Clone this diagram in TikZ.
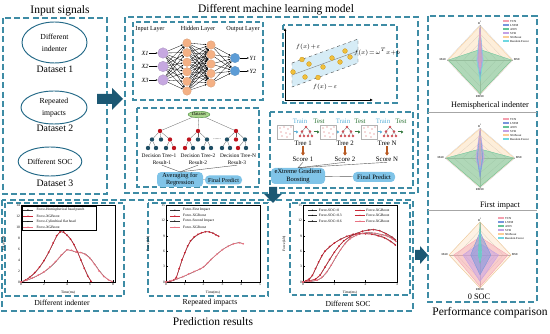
\documentclass[tikz,border=0pt]{standalone}
\usepackage{fontspec}
\setmainfont{Liberation Serif}
\usetikzlibrary{arrows.meta,shapes.geometric}
\definecolor{boxc}{RGB}{62,140,165}
\definecolor{arrc}{RGB}{28,88,115}
\definecolor{ellc}{RGB}{35,105,135}
\definecolor{inpc}{RGB}{198,168,224}
\definecolor{hidc}{RGB}{244,176,132}
\definecolor{outc}{RGB}{92,156,214}
\definecolor{bandc}{RGB}{214,236,246}
\definecolor{dotc}{RGB}{240,192,60}
\definecolor{dotd}{RGB}{205,150,30}
\definecolor{tdark}{RGB}{30,78,100}
\definecolor{tred}{RGB}{190,20,30}
\definecolor{rbox}{RGB}{128,196,232}
\definecolor{dsf}{RGB}{170,212,140}
\definecolor{dsd}{RGB}{70,140,60}
\definecolor{trainc}{RGB}{90,175,215}
\definecolor{testc}{RGB}{50,120,60}
\definecolor{brownc}{RGB}{185,90,35}
\definecolor{pred}{RGB}{200,40,55}
\definecolor{ppink}{RGB}{232,115,130}
\definecolor{lTCN}{RGB}{244,160,175}
\definecolor{lLSTM}{RGB}{120,150,220}
\definecolor{lANN}{RGB}{100,195,150}
\definecolor{lSVR}{RGB}{195,160,230}
\definecolor{lXGB}{RGB}{250,205,150}
\definecolor{lRF}{RGB}{110,215,225}
\newcommand\radarbase{%
  \foreach \s in {0.25,0.5,0.75,1}
    \draw[gray!45, line width=0.2pt] (0,\s) -- (\s,0) -- (0,-\s) -- (-\s,0) -- cycle;
  \draw[gray!65, line width=0.25pt] (-1,0) -- (1,0) (0,-1) -- (0,1);
}
\newcommand\radarlabels[1]{%
  \node[rl, above] (#1t) at (0,1) {R\textsuperscript{2}};
  \node[rl, left] (#1l) at (-1,0) {MAE};
  \node[rl, right] (#1r) at (1,0) {MSE};
  \node[rl, below] (#1b) at (0,-1) {RMSE};
}
\newcommand\rpoly[6]{\filldraw[draw=#1, fill=#1, fill opacity=#6, line width=0.35pt] (0,#2) -- (#3,0) -- (0,-#4) -- (-#5,0) -- cycle;}
\newcommand\radarleg[3]{%
  \foreach \c/\t [count=\k] in {lTCN/TCN,lLSTM/LSTM,lANN/ANN,lSVR/SVR,lXGB/XGBoost,lRF/Random Forest}{%
    \fill[\c] (#1,{#2+4*\k-4}) rectangle ({#1+6},{#2+4*\k-1.6});
    \node[rleg] (#3\k) at ({#1+7},{#2+4*\k-2.8}) {\t};
  }%
}
\begin{document}
\begin{tikzpicture}[x=1pt,y=-1pt,
 dbox/.style={draw=boxc, line width=1.15pt, dash pattern=on 6pt off 3.2pt},
 ibox/.style={draw=boxc, line width=1.05pt, dash pattern=on 5.5pt off 3pt},
 ttl/.style={font=\fontsize{11.5}{13}\selectfont, inner sep=0pt},
 ds/.style={font=\fontsize{9.8}{11}\selectfont, inner sep=0pt},
 ell/.style={ellipse, draw=ellc, line width=0.95pt, inner sep=0pt, align=center, font=\fontsize{7.7}{12}\selectfont},
 pcap/.style={font=\fontsize{7.7}{9}\selectfont, inner sep=0pt},
 lay/.style={font=\fontsize{6.2}{7}\selectfont, inner sep=0pt},
 nnin/.style={circle, fill=inpc, draw=inpc!80!black, line width=0.2pt, minimum size=10.5pt, inner sep=0pt},
 nnh/.style={circle, fill=hidc, draw=hidc!85!black, line width=0.2pt, minimum size=8.6pt, inner sep=0pt},
 nno/.style={circle, fill=outc, draw=outc!85!black, line width=0.2pt, minimum size=9.5pt, inner sep=0pt},
 nne/.style={line width=0.3pt, -{Latex[length=1.8pt,width=1.6pt]}},
 nnlab/.style={font=\fontsize{6.3}{7}\selectfont\itshape, inner sep=0.5pt},
 svl/.style={font=\fontsize{5.8}{7}\selectfont\itshape, inner sep=0pt},
 tn/.style={circle, inner sep=0pt, minimum size=4.4pt},
 tl/.style={gray!80!black, line width=0.3pt},
 xl/.style={font=\fontsize{5.4}{6.5}\selectfont, inner sep=0.6pt},
 xl2/.style={font=\fontsize{6.8}{7.5}\selectfont, inner sep=0.8pt},
 rb/.style={rounded corners=4pt, fill=rbox, align=center, inner sep=1pt},
 gl/.style={gray!70!black, line width=0.4pt},
 tk/.style={font=\fontsize{3.6}{4}\selectfont, inner sep=0.8pt},
 lg/.style={font=\fontsize{3.6}{4}\selectfont, inner sep=0pt, anchor=west},
 refl/.style={black!80, line width=0.35pt, mark size=0.5pt},
 xgbl/.style={pred, line width=0.6pt, mark size=0.55pt},
 xgbl2/.style={ppink, line width=0.6pt, mark size=0.55pt},
 rl/.style={font=\fontsize{3}{3.4}\selectfont, inner sep=0.6pt},
 rleg/.style={font=\fontsize{3}{3.2}\selectfont, inner sep=0pt, anchor=west},
 rt/.style={font=\fontsize{8.3}{9}\selectfont, inner sep=0pt}
]
\useasboundingbox (0,0) rectangle (550,334);

% ---------- titles ----------
\node[ttl] (tin) at (60,11) {Input signals};
\node[ttl] (tml) at (276,10) {Different machine learning model};
\node[ttl] (tpr) at (213,322) {Prediction results};
\node[ttl] (tpc) at (490,313) {Performance comparison};

% ---------- dashed frames ----------
\draw[dbox] (3,18) rectangle (107,194);
\draw[dbox] (125,17) rectangle (418,193);
\draw[ibox] (133,22) rectangle (263,100);
\draw[ibox] (283,25) rectangle (397,103);
\draw[ibox] (137,108) rectangle (259,187);
\draw[ibox] (270,112) rectangle (413,188);
\draw[dbox] (2,200) rectangle (413,311);
\draw[ibox] (5,203) rectangle (124,296);
\draw[ibox] (148,203) rectangle (268,296);
\draw[ibox] (290,203) rectangle (410,295);
\draw[dbox] (428,16) rectangle (537,302);

% ---------- big arrows ----------
\fill[arrc] (97,94) -- (112,94) -- (112,88) -- (123,99) -- (112,110) -- (112,104) -- (97,104) -- cycle;
\fill[arrc] (269,187) -- (277,187) -- (277,194) -- (282,194) -- (273,203) -- (264,194) -- (269,194) -- cycle;
\fill[arrc] (415,250) -- (420,250) -- (420,246) -- (428,255) -- (420,264) -- (420,260) -- (415,260) -- cycle;

% ---------- input signals ----------
\node[ell, minimum width=65pt, minimum height=41pt] (e1) at (54.5,42.5) {Different\\indenter};
\node[ds] (d1) at (55,69) {Dataset 1};
\node[ell, minimum width=66pt, minimum height=33pt] (e2) at (54,107.5) {Repeated\\impacts};
\node[ds] (d2) at (55,128) {Dataset 2};
\node[ell, minimum width=54pt, minimum height=29pt] (e3) at (50,161.5) {Different SOC};
\node[ds] (d3) at (55,183) {Dataset 3};

% ---------- neural network ----------
\node[lay] (lin) at (150,29) {Input Layer};
\node[lay] (lhid) at (198,29) {Hidden Layer};
\node[lay] (lout) at (243,29) {Output Layer};
\foreach \y [count=\k] in {53,66.5,80} \node[nnin] (i\k) at (163,\y) {};
\foreach \y [count=\k] in {43,52.6,62.2,71.8,81.4,91} \node[nnh] (h\k) at (187,\y) {};
\foreach \y [count=\k] in {45,54.5,64,73.5,83} \node[nnh] (g\k) at (211,\y) {};
\foreach \y [count=\k] in {58,71} \node[nno] (o\k) at (235,\y) {};
\foreach \a in {1,2,3} \foreach \b in {1,...,6} \draw[nne] (i\a) -- (h\b);
\foreach \a in {1,...,6} \foreach \b in {1,...,5} \draw[nne] (h\a) -- (g\b);
\foreach \a in {1,...,5} \foreach \b in {1,2} \draw[nne] (g\a) -- (o\b);
\foreach \y [count=\k] in {53,66.5,80} {\node[nnlab] (x\k) at (145,\y) {X\k}; \draw[nne] (x\k) -- (i\k);}
\foreach \y [count=\k] in {58,71} {\node[nnlab] (yy\k) at (253,\y) {Y\k}; \draw[nne] (o\k) -- (yy\k);}

% ---------- SVR ----------
\coordinate (ax0) at (285,100);
\coordinate (axy) at (285,28);
\coordinate (axx) at (373,100);
\draw[line width=0.7pt, -{Latex[length=3pt,width=3pt]}] (ax0) -- (axy);
\draw[line width=0.7pt, -{Latex[length=3pt,width=3pt]}] (ax0) -- (axx);
\filldraw[fill=bandc, draw=black!70, dashed, line width=0.4pt] (292,63) -- (358,39) -- (358,63) -- (292,87) -- cycle;
\draw[gray, line width=0.4pt] (292,75) -- (358,51);
\foreach \px/\py in {293/72,302/59.5,309/64,305/77,318/77.5,323/67,332/58,340/62,345/51,350/57}
  \filldraw[fill=dotc, draw=dotd, line width=0.3pt] (\px,\py) circle[radius=2.4pt];
\node[svl] (fp) at (308,47) {$f(x)\!+\!\varepsilon$};
\node[svl] (fm) at (325,87) {$f(x)\!-\!\varepsilon$};
\node[svl] (fw) at (377,52) {$f(x)\!=\!\omega^{T}x\!+\!b$};

% ---------- random forest ----------
\node[ellipse, fill=dsf, draw=dsd, line width=0.4pt, inner sep=0.8pt, font=\fontsize{4.6}{5}\selectfont] (dset) at (199,114.5) {Dataset};
\foreach \t/\rx/\ca/\cb/\cc/\la/\lb/\lc/\ld/\sa/\sb/\sc/\sd/\ta/\tb/\tc/\td in
 {1/160/tdark/tdark/tred/148/156/166/174/tdark/tdark/tdark/tred/152/161/170/0,
  2/198/tred/tdark/tdark/185/193/203/211/tred/tdark/tdark/tdark/189/198/207/0,
  3/236/tdark/tred/tdark/222/230/238/246/tdark/tdark/tred/tdark/227/236/245/0}{
  \node[tn, fill=tred] (r\t) at (\rx,131) {};
  \node[tn, fill=\ca] (r\t a) at (\ta,139.5) {};
  \node[tn, fill=\cb] (r\t b) at (\tb,139.5) {};
  \node[tn, fill=\cc] (r\t c) at (\tc,139.5) {};
  \node[tn, fill=\sa] (r\t p) at (\la,148) {};
  \node[tn, fill=\sb] (r\t q) at (\lb,148) {};
  \node[tn, fill=\sc] (r\t r) at (\lc,148) {};
  \node[tn, fill=\sd] (r\t s) at (\ld,148) {};
  \draw[tl] (dset) -- (r\t);
  \draw[tl] (r\t) -- (r\t a); \draw[tl] (r\t) -- (r\t b); \draw[tl] (r\t) -- (r\t c);
  \draw[tl] (r\t a) -- (r\t p); \draw[tl] (r\t a) -- (r\t q);
  \draw[tl] (r\t c) -- (r\t r); \draw[tl] (r\t c) -- (r\t s);
}
\node[font=\fontsize{5}{5}\selectfont, inner sep=0pt] (rfdots) at (217,139) {......};
\node[xl] (dt1) at (159,155.5) {Decision Tree-1};
\node[xl] (dt2) at (198,155.5) {Decision Tree-2};
\node[xl] (dt3) at (238,155.5) {Decision Tree-N};
\node[xl] (res1) at (162,162.5) {Result-1};
\node[xl] (res2) at (198,162.5) {Result-2};
\node[xl] (res3) at (237,162.5) {Result-3};
\node[rb, minimum width=46pt, minimum height=14pt, font=\fontsize{6.3}{7}\selectfont] (avg) at (180,179.5) {Averaging for\\Regression};
\node[rb, minimum width=37pt, minimum height=9pt, font=\fontsize{6}{7}\selectfont] (fpr) at (223.5,180) {Final Predict};
\draw[gl] (res1.south) -- (avg.north);
\draw[gl] (res2.south) -- (avg.north);
\draw[gl] (res3.south) -- (avg.north);
\draw[gl] (avg) -- (fpr);

% ---------- XGBoost ----------
\foreach \cx/\tx in {285/306,328/347,369/390}{
  \draw[gray!60, line width=0.3pt] ({\cx-8},125) rectangle ({\cx+8},139);
  \foreach \dx/\dy in {-5/-4,-1/-5,3/-3,-4/0,1/1,5/2,-3/4,2/5,6/-5}
    \fill[tred!70] ({\cx+\dx},{132+\dy}) circle[radius=0.55pt];
  \draw[tl] (\tx,127) -- ({\tx-4},131.5) -- ({\tx-6},136);
  \draw[tl] ({\tx-4},131.5) -- ({\tx-2},136);
  \draw[tl] (\tx,127) -- ({\tx+4},131.5) -- ({\tx+6},136);
  \draw[tl] ({\tx+4},131.5) -- ({\tx+2},136);
  \foreach \nx/\ny in {0/127,-4/131.5,4/131.5,-6/136,-2/136,2/136,6/136}
    \fill[tred!75] ({\tx+\nx},\ny) circle[radius=1.3pt];
  \draw[trainc, line width=1pt, -{Latex[length=2.5pt,width=3.4pt]}] ({\cx+9},132) -- ({\tx-7.5},132);
  \draw[testc, line width=1pt, -{Latex[length=2.5pt,width=3.4pt]}] ({\tx+7.5},132) -- ({\tx+13.5},132);
}
\foreach \a/\b [count=\k] in {300/319,343/360,383/401}{
  \node[xl2, text=trainc] (trn\k) at (\a,121) {Train};
  \node[xl2, text=testc] (tst\k) at (\b,121) {Test};
}
\foreach \x/\n [count=\k] in {303/1,345/2,387/N}{
  \node[xl2] (tr\k) at (\x,143) {Tree \n};
  \node[xl2] (sc\k) at (\x,159) {Score \n};
  \draw[brownc, line width=1.6pt, -{Latex[length=3pt,width=4.5pt]}] (tr\k) -- (sc\k);
}
\node[rb, minimum width=54pt, minimum height=16pt, font=\fontsize{6.5}{7.2}\selectfont] (xgb) at (298,176) {eXtreme Gradient\\Boosting};
\node[rb, minimum width=42pt, minimum height=10pt, font=\fontsize{6.6}{7}\selectfont] (fpx) at (374,177) {Final Predict};
\draw[gl] (sc1.south) -- (xgb.north);
\draw[gl] (sc2.south) -- (xgb.north);
\draw[gl] (sc3.south) -- (xgb.north);
\draw[gl] (xgb) -- (fpx);

% ---------- plot 1 ----------
\begin{scope}[shift={(21,282)},x=11.5pt,y=5.5pt]
\draw[line width=0.4pt] (0,0) rectangle (8.15,14);
\foreach \v in {0,2,4,6,8}{\draw[line width=0.3pt] (\v,0) -- (\v,0.3); \node[tk,below] (pax\v) at (\v,0) {\v};}
\foreach \v in {0,2,...,14}{\draw[line width=0.3pt] (0,\v) -- (0.12,\v); \node[tk,left] (pay\v) at (0,\v) {\v};}
\node[tk,rotate=90] (payl) at (-1.5,7) {Force(kN)};
\node[tk] (paxl) at (4.1,-1.9) {Time(ms)};
\draw[refl] plot[mark=square*] coordinates {(0,0) (0.4,0.3) (0.8,0.9) (1.2,1.6) (1.6,2.6) (2,3.8) (2.4,5.3) (2.8,7.0) (3.1,8.3) (3.4,9.2) (3.7,9.0) (4.0,8.6) (4.3,7.9) (4.6,6.9) (4.9,5.6) (5.2,4.1) (5.5,2.6) (5.8,1.2) (6.1,0.1)};
\draw[xgbl] plot[mark=*] coordinates {(0,0) (0.4,0.35) (0.8,0.95) (1.2,1.7) (1.6,2.7) (2,3.9) (2.4,5.4) (2.8,7.1) (3.1,8.4) (3.4,9.1) (3.7,9.1) (4.0,8.5) (4.3,7.8) (4.6,6.8) (4.9,5.5) (5.2,4.0) (5.5,2.5) (5.8,1.1) (6.1,0.1)};
\draw[refl] plot[mark=triangle*] coordinates {(0,0) (0.5,0.3) (1,0.7) (1.5,1.2) (2,1.8) (2.5,2.6) (3,3.6) (3.5,4.8) (4,5.9) (4.4,5.7) (4.8,5.4) (5.2,5.4) (5.6,5.1) (6,4.4) (6.4,3.3) (6.8,2.1) (7.2,1.1) (7.6,0.4) (7.9,0.1)};
\draw[xgbl2] plot[mark=*] coordinates {(0,0) (0.5,0.35) (1,0.75) (1.5,1.25) (2,1.85) (2.5,2.7) (3,3.7) (3.5,4.9) (4,5.85) (4.4,5.75) (4.8,5.45) (5.2,5.35) (5.6,5.0) (6,4.3) (6.4,3.2) (6.8,2.0) (7.2,1.0) (7.6,0.4) (7.9,0.1)};
\draw[line width=0.3pt] (0.1,9.4) rectangle (6.5,13.75);
\draw[refl] (0.2,13.1) -- (1.0,13.1); \fill[black] (0.6,13.1) circle[radius=0.6pt];
\draw[xgbl] (0.2,12.0) -- (1.0,12.0); \fill[pred] (0.6,12.0) circle[radius=0.6pt];
\draw[refl] (0.2,11.0) -- (1.0,11.0); \fill[black] (0.6,11.0) circle[radius=0.6pt];
\draw[xgbl2] (0.2,10.0) -- (1.0,10.0); \fill[ppink] (0.6,10.0) circle[radius=0.6pt];
\node[lg] (pl1) at (1.35,13.1) {Force-Hemispherical head punch};
\node[lg] (pl2) at (1.35,12.0) {Force-XGBoost};
\node[lg] (pl3) at (1.35,11.0) {Force-Cylindrical flat head};
\node[lg] (pl4) at (1.35,10.0) {Force-XGBoost};
\end{scope}
\node[pcap] (c1) at (62,303) {Different indenter};

% ---------- plot 2 ----------
\begin{scope}[shift={(166,282)},x=18.8pt,y=5.13pt]
\draw[line width=0.4pt] (0,0) rectangle (5,15);
\foreach \v in {0,...,5}{\draw[line width=0.3pt] (\v,0) -- (\v,0.3); \node[tk,below] (pbx\v) at (\v,0) {\v};}
\foreach \v in {0,3,...,15}{\draw[line width=0.3pt] (0,\v) -- (0.08,\v); \node[tk,left] (pby\v) at (0,\v) {\v};}
\node[tk,rotate=90] (pbyl) at (-0.95,7.5) {Force(kN)};
\node[tk] (pbxl) at (2.5,-2) {Time(ms)};
\draw[refl] plot[mark=square*] coordinates {(0,0) (0.2,0.1) (0.4,0.3) (0.55,0.8) (0.7,2.5) (0.85,4.2) (1.0,5.6) (1.15,6.9) (1.3,7.9) (1.5,8.7) (1.7,9.2) (1.9,9.6) (2.1,9.8) (2.3,9.8) (2.5,9.6) (2.65,9.2) (2.8,9.0)};
\draw[xgbl] plot[mark=*] coordinates {(0,0) (0.2,0.15) (0.4,0.35) (0.55,0.9) (0.7,2.6) (0.85,4.3) (1.0,5.7) (1.15,7.0) (1.3,8.0) (1.5,8.8) (1.7,9.3) (1.9,9.6) (2.1,9.8) (2.3,9.75) (2.5,9.5) (2.65,9.2) (2.8,8.9)};
\draw[refl] plot[mark=triangle*] coordinates {(0,0) (0.3,0.2) (0.6,0.6) (0.9,1.0) (1.2,1.5) (1.5,2.0) (1.8,2.5) (2.0,2.9) (2.2,3.6) (2.4,4.4) (2.7,5.4) (3.0,6.3) (3.3,7.0) (3.6,7.5) (3.9,7.7) (4.1,7.5)};
\draw[xgbl2] plot[mark=*] coordinates {(0,0) (0.3,0.25) (0.6,0.65) (0.9,1.05) (1.2,1.55) (1.5,2.05) (1.8,2.5) (2.0,2.95) (2.2,3.65) (2.4,4.4) (2.7,5.4) (3.0,6.3) (3.3,6.95) (3.6,7.45) (3.9,7.65) (4.1,7.45)};
\draw[refl] (0.2,14.0) -- (0.75,14.0); \fill[black] (0.47,14.0) circle[radius=0.6pt];
\draw[xgbl] (0.2,12.9) -- (0.75,12.9); \fill[pred] (0.47,12.9) circle[radius=0.6pt];
\draw[refl] (0.2,11.9) -- (0.75,11.9); \fill[black] (0.47,11.9) circle[radius=0.6pt];
\draw[xgbl2] (0.2,10.7) -- (0.75,10.7); \fill[ppink] (0.47,10.7) circle[radius=0.6pt];
\node[lg] (pm1) at (0.9,14.0) {Force-First Impact};
\node[lg] (pm2) at (0.9,12.9) {Force-XGBoost};
\node[lg] (pm3) at (0.9,11.9) {Force-Second Impact};
\node[lg] (pm4) at (0.9,10.7) {Force-XGBoost};
\end{scope}
\node[pcap] (c2) at (210,303) {Repeated impacts};

% ---------- plot 3 ----------
\begin{scope}[shift={(303,282)},x=31.3pt,y=5.13pt]
\draw[line width=0.4pt] (0,0) rectangle (3,15);
\foreach \v in {0,...,3}{\draw[line width=0.3pt] (\v,0) -- (\v,0.3); \node[tk,below] (pcx\v) at (\v,0) {\v};}
\foreach \v in {0,3,...,15}{\draw[line width=0.3pt] (0,\v) -- (0.05,\v); \node[tk,left] (pcy\v) at (0,\v) {\v};}
\node[tk,rotate=90] (pcyl) at (-0.6,7.5) {Force(kN)};
\node[tk] (pcxl) at (1.5,-2) {Time(ms)};
\draw[refl] plot[mark=square*] coordinates {(0,0) (0.1,0.2) (0.2,0.5) (0.3,1.2) (0.4,2.5) (0.5,3.8) (0.6,5.0) (0.7,6.0) (0.85,6.8) (1.0,7.6) (1.2,8.4) (1.4,8.9) (1.6,9.2) (1.8,9.4) (2.0,9.5) (2.2,9.4) (2.4,9.1) (2.6,8.7) (2.8,8.0) (2.95,7.3)};
\draw[xgbl] plot[mark=*] coordinates {(0,0) (0.1,0.25) (0.2,0.6) (0.3,1.3) (0.4,2.6) (0.5,3.9) (0.6,5.1) (0.7,6.0) (0.85,6.9) (1.0,7.6) (1.2,8.3) (1.4,8.9) (1.6,9.3) (1.8,9.4) (2.0,9.4) (2.2,9.3) (2.4,9.0) (2.6,8.6) (2.8,7.9) (2.95,7.2)};
\draw[refl] plot[mark=triangle*] coordinates {(0,0) (0.2,0.2) (0.4,0.5) (0.55,1.3) (0.7,2.8) (0.85,4.3) (1.0,5.8) (1.15,7.0) (1.3,8.0) (1.5,8.9) (1.7,9.5) (1.9,9.9) (2.1,10.2) (2.25,10.3) (2.45,10.0) (2.65,9.5) (2.85,8.8) (2.95,8.3)};
\draw[xgbl] plot[mark=*] coordinates {(0,0) (0.2,0.25) (0.4,0.55) (0.55,1.4) (0.7,2.9) (0.85,4.4) (1.0,5.8) (1.15,7.0) (1.3,8.0) (1.5,8.8) (1.7,9.4) (1.9,9.9) (2.1,10.1) (2.25,10.2) (2.45,10.0) (2.65,9.4) (2.85,8.7) (2.95,8.2)};
\draw[refl] plot[mark=diamond*] coordinates {(0,0) (0.25,0.1) (0.45,0.3) (0.6,0.8) (0.75,1.8) (0.9,3.2) (1.05,4.8) (1.2,6.3) (1.35,7.6) (1.5,8.5) (1.7,9.1) (1.9,9.5) (2.1,9.7) (2.3,9.5) (2.5,9.3) (2.7,9.0) (2.85,8.5) (2.97,8.0)};
\draw[xgbl2] plot[mark=*] coordinates {(0,0) (0.25,0.15) (0.45,0.35) (0.6,0.9) (0.75,1.9) (0.9,3.3) (1.05,4.9) (1.2,6.3) (1.35,7.5) (1.5,8.4) (1.7,9.1) (1.9,9.5) (2.1,9.6) (2.3,9.5) (2.5,9.2) (2.7,8.9) (2.85,8.4) (2.97,7.9)};
\draw[refl] (0.16,14.0) -- (0.45,14.0); \fill[black] (0.3,14.0) circle[radius=0.6pt];
\draw[refl] (0.16,13.0) -- (0.45,13.0); \fill[black] (0.3,13.0) circle[radius=0.6pt];
\draw[refl] (0.16,11.9) -- (0.45,11.9); \fill[black] (0.3,11.9) circle[radius=0.6pt];
\draw[xgbl] (1.66,14.0) -- (1.98,14.0); \fill[pred] (1.82,14.0) circle[radius=0.6pt];
\draw[xgbl] (1.66,13.0) -- (1.98,13.0); \fill[pred] (1.82,13.0) circle[radius=0.6pt];
\draw[xgbl2] (1.66,11.9) -- (1.98,11.9); \fill[ppink] (1.82,11.9) circle[radius=0.6pt];
\node[lg] (pn1) at (0.5,14.0) {Force-SOC=0};
\node[lg] (pn2) at (0.5,13.0) {Force-SOC=0.3};
\node[lg] (pn3) at (0.5,11.9) {Force-SOC=0.6};
\node[lg] (pn4) at (2.02,14.0) {Force-XGBoost};
\node[lg] (pn5) at (2.02,13.0) {Force-XGBoost};
\node[lg] (pn6) at (2.02,11.9) {Force-XGBoost};
\end{scope}
\node[pcap] (c3) at (348,304) {Different SOC};

% ---------- radar charts ----------
\draw[gray!70, line width=0.5pt] (428,112) -- (537,112);
\draw[gray!70, line width=0.5pt] (428,210) -- (537,210);

\begin{scope}[shift={(480,60)},x=33pt,y=35pt]
\radarbase
\rpoly{lXGB}{0.97}{0.97}{0.97}{0.97}{0.35}
\rpoly{lANN}{0.3}{0.96}{0.96}{0.96}{0.5}
\rpoly{lRF}{0.92}{0.1}{0.6}{0.1}{0.5}
\rpoly{lLSTM}{0.95}{0.06}{0.45}{0.06}{0.5}
\rpoly{lSVR}{0.9}{0.08}{0.35}{0.08}{0.5}
\rpoly{lTCN}{0.97}{0.04}{0.25}{0.04}{0.5}
\radarlabels{ra}
\end{scope}
\radarleg{503}{20}{la}
\node[rt] (rt1) at (490,106) {Hemispherical indenter};

\begin{scope}[shift={(480,158)},x=35pt,y=30pt]
\radarbase
\rpoly{lXGB}{0.97}{0.97}{0.97}{0.97}{0.35}
\rpoly{lANN}{0.3}{0.96}{0.96}{0.96}{0.5}
\rpoly{lSVR}{0.95}{0.12}{0.5}{0.12}{0.6}
\rpoly{lLSTM}{0.9}{0.08}{0.65}{0.08}{0.55}
\rpoly{lRF}{0.85}{0.05}{0.4}{0.05}{0.5}
\rpoly{lTCN}{0.95}{0.04}{0.3}{0.04}{0.5}
\radarlabels{rb}
\end{scope}
\radarleg{503}{118}{lb}
\node[rt] (rt2) at (500,206) {First impact};

\begin{scope}[shift={(480,255)},x=31pt,y=33pt]
\radarbase
\rpoly{lXGB}{1}{1}{1}{1}{0.25}
\rpoly{lTCN}{0.55}{0.9}{0.95}{0.85}{0.45}
\rpoly{lSVR}{0.35}{0.6}{0.8}{0.55}{0.5}
\rpoly{lLSTM}{0.7}{0.35}{0.6}{0.3}{0.5}
\rpoly{lANN}{1}{0.05}{0.25}{0.05}{0.7}
\rpoly{lRF}{0.8}{0.05}{0.2}{0.05}{0.5}
\radarlabels{rc}
\end{scope}
\radarleg{498}{217}{lc}
\node[rt] (rt3) at (479,297) {0 SOC};

\end{tikzpicture}
\end{document}
